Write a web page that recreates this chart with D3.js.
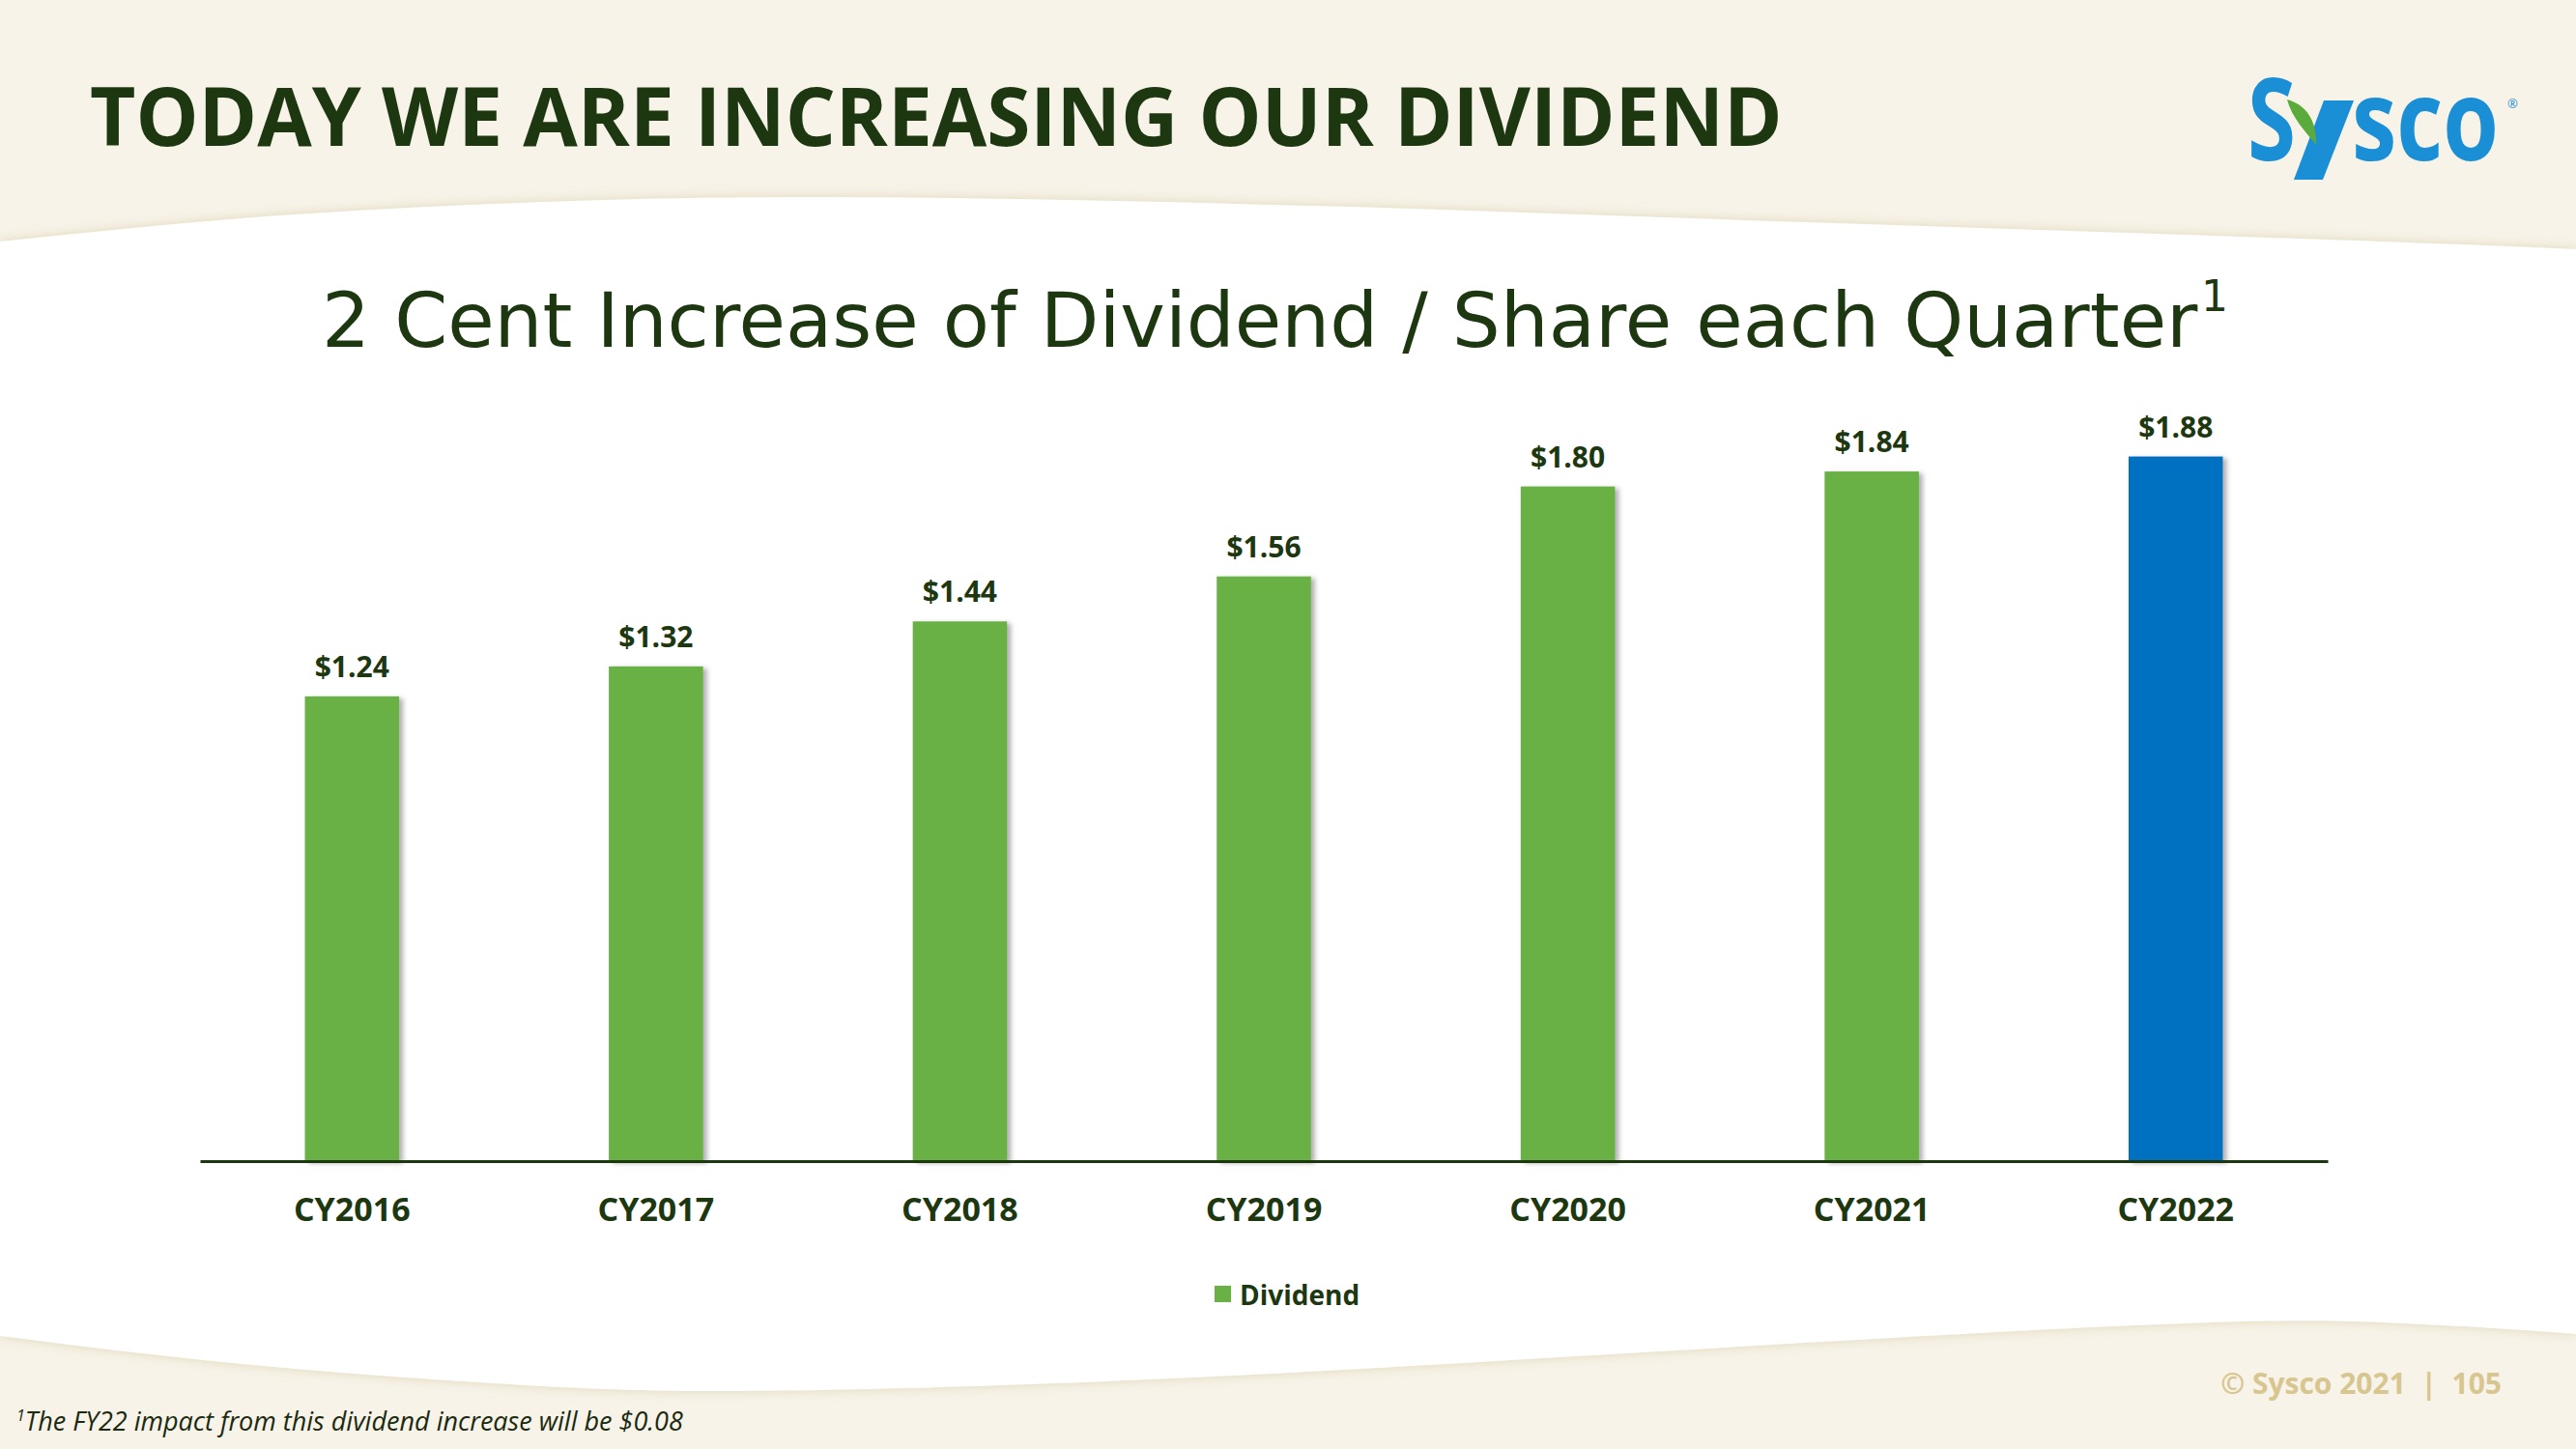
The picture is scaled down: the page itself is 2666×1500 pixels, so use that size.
<!DOCTYPE html>
<html>
<head>
<meta charset="utf-8">
<script src="https://cdn.jsdelivr.net/npm/d3@7"></script>
<style>
  html, body { margin: 0; padding: 0; background: #f7f3e8; }
  svg { display: block; }
</style>
</head>
<body>
<svg id="chart" width="2666" height="1500"></svg>
<script>
// ---- data ----
const categories = ["CY2016", "CY2017", "CY2018", "CY2019", "CY2020", "CY2021", "CY2022"];
const dividends = [1.24, 1.32, 1.44, 1.56, 1.80, 1.84, 1.88];
const highlightCategory = "CY2022";
const seriesName = "Dividend";
const titleText = "TODAY WE ARE INCREASING OUR DIVIDEND";
const subtitleText = "2 Cent Increase of Dividend / Share each Quarter";
const footnoteText = "The FY22 impact from this dividend increase will be $0.08";
const copyrightText = "© Sysco 2021  |  105";

const W = 2666, H = 1500;
const cream = "#f7f3e8", darkGreen = "#1d3711", barGreen = "#6ab145", barBlue = "#0070c0";

const svg = d3.select("#chart");
const defs = svg.append("defs");

// shadows
const f1 = defs.append("filter").attr("id", "barShadow").attr("x", "-20%").attr("y", "-5%").attr("width", "150%").attr("height", "110%");
f1.append("feDropShadow").attr("dx", 4).attr("dy", 2).attr("stdDeviation", 2.5)
  .attr("flood-color", "#6e6e6e").attr("flood-opacity", 0.55);
const f2 = defs.append("filter").attr("id", "waveShadow").attr("x", "-5%").attr("y", "-5%").attr("width", "110%").attr("height", "110%");
f2.append("feDropShadow").attr("dx", 0).attr("dy", 0).attr("stdDeviation", 6)
  .attr("flood-color", "#d9cfae").attr("flood-opacity", 0.8);

// background
svg.append("rect").attr("width", W).attr("height", H).attr("fill", cream);

// white content area between waves
const topPts = [[0, 250], [250, 226], [510, 211], [850, 204], [1360, 213], [1870, 230], [2380, 247], [2666, 258]];
const botPts = [[2666, 1381], [2465, 1369], [2210, 1372], [1700, 1400], [1190, 1428], [765, 1440], [510, 1432], [250, 1412], [0, 1383]];
const lineGen = d3.line().curve(d3.curveNatural);
const topD = lineGen(topPts);
const botD = lineGen(botPts);
svg.append("path")
  .attr("d", topD + "L" + botD.slice(1) + "Z")
  .attr("fill", "#ffffff")
  .attr("filter", "url(#waveShadow)");

// helper: horizontally scale a text (anchored at its x,y) to a target width
function fitWidth(sel, x0, y0, target) {
  sel.attr("x", 0).attr("y", 0);
  const len = sel.node().getComputedTextLength();
  sel.attr("transform", `translate(${x0},${y0}) scale(${target / len},1)`);
}

// title
const title = svg.append("text")
  .attr("font-family", "'Open Sans', sans-serif")
  .attr("font-weight", 700).attr("font-size", 84)
  .attr("fill", darkGreen)
  .text(titleText);
fitWidth(title, 93, 151, 1752);

// logo
const logo = svg.append("g");
const logoBlue = "#1a8fd6";
const sLetter = logo.append("text")
  .attr("font-family", "'Open Sans', sans-serif").attr("font-weight", 700).attr("font-size", 118)
  .attr("fill", logoBlue).text("S");
fitWidth(sLetter, 2326, 166, 50);
// y: right stroke (blue) + left leaf (green)
logo.append("path").attr("d", "M2405,104 L2436,104 L2404,186 L2374,186 Z").attr("fill", logoBlue);
logo.append("path").attr("d", "M2367,103 C2386,108 2398,124 2397,150 C2386,136 2372,122 2367,103 Z").attr("fill", "#5aaa3c");
const sco = logo.append("text")
  .attr("font-family", "'Open Sans', sans-serif").attr("font-weight", 700).attr("font-size", 116)
  .attr("fill", logoBlue).text("sco");
fitWidth(sco, 2434, 166, 152);
logo.append("text").attr("x", 2595).attr("y", 112)
  .attr("font-family", "'Open Sans', sans-serif").attr("font-size", 13)
  .attr("fill", logoBlue).text("®");

// subtitle
const sub = svg.append("text")
  .attr("font-family", "'DejaVu Sans', Verdana, sans-serif")
  .attr("font-size", 78)
  .attr("fill", darkGreen)
  .text(subtitleText);
fitWidth(sub, 333, 359, 1942);
svg.append("text")
  .attr("x", 2278).attr("y", 322)
  .attr("font-family", "'DejaVu Sans', Verdana, sans-serif")
  .attr("font-size", 44)
  .attr("fill", darkGreen)
  .text("1");

// chart scales
const x = d3.scaleBand().domain(categories).range([207, 2409]).paddingInner(0.69).paddingOuter(0.345);
const y = d3.scaleLinear().domain([0, 2.0]).range([1202, 426]);
const data = categories.map((c, i) => ({ cat: c, val: dividends[i] }));

// bars
svg.append("g").selectAll("rect").data(data).join("rect")
  .attr("x", d => x(d.cat))
  .attr("y", d => y(d.val))
  .attr("width", x.bandwidth())
  .attr("height", d => y(0) - y(d.val))
  .attr("fill", d => d.cat === highlightCategory ? barBlue : barGreen)
  .attr("filter", "url(#barShadow)");

// value labels
const fmt = d3.format("$.2f");
svg.append("g").selectAll("text").data(data).join("text")
  .attr("x", d => x(d.cat) + x.bandwidth() / 2)
  .attr("y", d => y(d.val) - 20)
  .attr("text-anchor", "middle")
  .attr("font-family", "'Open Sans', sans-serif")
  .attr("font-weight", 700).attr("font-size", 30)
  .attr("fill", darkGreen)
  .text(d => fmt(d.val));

// x axis
const xAxis = svg.append("g")
  .attr("transform", `translate(0,${y(0)})`)
  .call(d3.axisBottom(x).tickSize(0).tickSizeOuter(0));
xAxis.select(".domain").attr("stroke", darkGreen).attr("stroke-width", 3);
xAxis.selectAll(".tick text")
  .attr("y", 62).attr("dy", 0)
  .attr("font-family", "'Open Sans', sans-serif")
  .attr("font-weight", 700).attr("font-size", 34)
  .attr("fill", darkGreen);

// legend
const leg = svg.append("g");
leg.append("rect").attr("x", 1257).attr("y", 1331).attr("width", 17).attr("height", 17).attr("fill", barGreen);
leg.append("text").attr("x", 1283).attr("y", 1351)
  .attr("font-family", "'Open Sans', sans-serif")
  .attr("font-weight", 700).attr("font-size", 28)
  .attr("fill", darkGreen).text(seriesName);

// footnote
const fn = svg.append("text")
  .attr("x", 17).attr("y", 1481)
  .attr("font-family", "'Open Sans', sans-serif")
  .attr("font-style", "italic").attr("font-size", 27)
  .attr("fill", "#1a2a10");
fn.append("tspan").attr("font-size", 16).attr("dy", -10).text("1");
fn.append("tspan").attr("dy", 10).text(footnoteText);

// copyright
svg.append("text")
  .attr("x", 2589).attr("y", 1443)
  .attr("text-anchor", "end")
  .attr("font-family", "'Open Sans', sans-serif")
  .attr("font-weight", 700).attr("font-size", 30)
  .attr("fill", "#d8c690")
  .attr("xml:space", "preserve")
  .style("white-space", "pre")
  .text(copyrightText);
</script>
</body>
</html>
